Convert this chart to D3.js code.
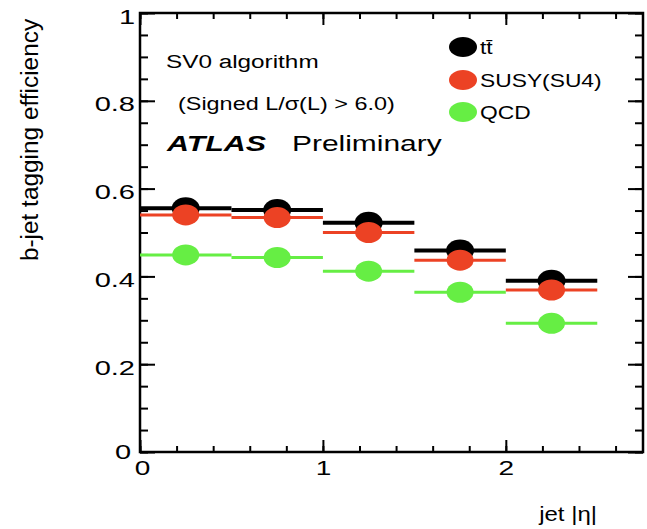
<!DOCTYPE html>
<html>
<head>
<meta charset="utf-8">
<script src="https://cdn.jsdelivr.net/npm/d3@7"></script>
<style>
  body { margin: 0; background: #fff; }
  text { font-family: "Liberation Sans", Arial, sans-serif; fill: #000; }
</style>
</head>
<body>
<script>
// eta bins and efficiencies per sample
const binEdges = [0, 0.5, 1.0, 1.5, 2.0, 2.5];
const ttbarEff = [0.555, 0.551, 0.522, 0.459, 0.390];
const susyEff = [0.540, 0.534, 0.500, 0.437, 0.369];
const qcdEff = [0.449, 0.443, 0.412, 0.364, 0.293];
const seriesNames = ['tt\u0304', 'SUSY(SU4)', 'QCD'];
const yTicks = [0, 0.2, 0.4, 0.6, 0.8, 1];
const xTicks = [0, 1, 2];

const series = [
    { name: seriesNames[0], values: ttbarEff, color: '#000000', width: 4, rx: 14, ry: 11 },
    { name: seriesNames[1], values: susyEff, color: '#ec4224', width: 3, rx: 13.5, ry: 10.5 },
    { name: seriesNames[2], values: qcdEff, color: '#66ee44', width: 3, rx: 13.5, ry: 10.5 }
];

const svgWidth = 647;
const svgHeight = 529;
const margin = { top: 13, right: 4, bottom: 77, left: 140 };
const width = svgWidth - margin.left - margin.right;
const height = svgHeight - margin.top - margin.bottom;

const svg = d3.select('body').append('svg')
    .attr('width', svgWidth)
    .attr('height', svgHeight);

const chart = svg.append('g')
    .attr('transform', `translate(${margin.left},${margin.top})`);

const xScale = d3.scaleLinear().domain([0, 2.75]).range([0, width]);
const yScale = d3.scaleLinear().domain([0, 1]).range([height, 0]);

// stretch text horizontally, the source picture is squeezed
function stretch(sel, k) {
    sel.each(function () {
        const len = this.getComputedTextLength();
        d3.select(this).attr('textLength', len * k).attr('lengthAdjust', 'spacingAndGlyphs');
    });
}

// ticks (inward, on all four sides)
const yMinor = d3.range(0, 1.0001, 0.05);
const xMinor = d3.range(0, 2.7, 0.2);

function drawAxis(g, axis) {
    g.call(axis);
    g.select('.domain').remove();
    g.selectAll('.tick line').attr('stroke', '#000').attr('stroke-width', 2);
}

chart.append('g').call(g => drawAxis(g, d3.axisLeft(yScale).tickValues(yMinor).tickSize(-8).tickFormat('')));
chart.append('g').attr('transform', `translate(${width},0)`)
    .call(g => drawAxis(g, d3.axisRight(yScale).tickValues(yMinor).tickSize(-8).tickFormat('')));
chart.append('g').attr('transform', `translate(0,${height})`)
    .call(g => drawAxis(g, d3.axisBottom(xScale).tickValues(xMinor).tickSize(-6).tickFormat('')));
chart.append('g')
    .call(g => drawAxis(g, d3.axisTop(xScale).tickValues(xMinor).tickSize(-6).tickFormat('')));

const yAxis = chart.append('g').attr('class', 'y-axis');
drawAxis(yAxis, d3.axisLeft(yScale).tickValues(yTicks).tickSize(-15).tickPadding(5)
    .tickFormat(d => d === 0 || d === 1 ? d3.format('d')(d) : d3.format('.1f')(d)));
yAxis.selectAll('text').style('font-size', '20px').attr('dy', '0.5em');
yAxis.selectAll('.tick').filter(d => d === 0).select('text').attr('x', -9).attr('dy', '0.3em');
stretch(yAxis.selectAll('text'), 1.45);

chart.append('g').attr('transform', `translate(${width},0)`)
    .call(g => drawAxis(g, d3.axisRight(yScale).tickValues(yTicks).tickSize(-15).tickFormat('')));

const xAxis = chart.append('g').attr('class', 'x-axis').attr('transform', `translate(0,${height})`);
drawAxis(xAxis, d3.axisBottom(xScale).tickValues(xTicks).tickSize(-12).tickPadding(9)
    .tickFormat(d3.format('d')));
xAxis.selectAll('text').style('font-size', '20px');
xAxis.selectAll('.tick').filter(d => d === 0).select('text').attr('x', 2);
stretch(xAxis.selectAll('text'), 1.4);

chart.append('g')
    .call(g => drawAxis(g, d3.axisTop(xScale).tickValues(xTicks).tickSize(-12).tickFormat('')));

// frame
chart.append('rect')
    .attr('x', 0).attr('y', 0)
    .attr('width', width).attr('height', height)
    .attr('fill', 'none').attr('stroke', '#000').attr('stroke-width', 2.5);

// points: bin width lines with a dot in the middle
series.forEach(s => {
    const g = chart.append('g');
    g.selectAll('line')
        .data(s.values)
        .enter().append('line')
        .attr('x1', (d, i) => xScale(binEdges[i]))
        .attr('x2', (d, i) => xScale(binEdges[i + 1]))
        .attr('y1', d => yScale(d))
        .attr('y2', d => yScale(d))
        .attr('stroke', s.color)
        .attr('stroke-width', s.width);
    g.selectAll('ellipse')
        .data(s.values)
        .enter().append('ellipse')
        .attr('cx', (d, i) => xScale((binEdges[i] + binEdges[i + 1]) / 2))
        .attr('cy', d => yScale(d))
        .attr('rx', s.rx)
        .attr('ry', s.ry)
        .attr('fill', s.color);
});

// labels
svg.append('text').attr('x', 166).attr('y', 68)
    .style('font-size', '18px').text('SV0 algorithm')
    .call(t => stretch(t, 1.35));
svg.append('text').attr('x', 178).attr('y', 110)
    .style('font-size', '18px').text('(Signed L/\u03c3(L) > 6.0)')
    .call(t => stretch(t, 1.3));
svg.append('text').attr('x', 167).attr('y', 151)
    .style('font-size', '22px').style('font-weight', 'bold').style('font-style', 'italic')
    .text('ATLAS')
    .call(t => stretch(t, 1.38));
svg.append('text').attr('x', 292).attr('y', 151)
    .style('font-size', '22px').text('Preliminary')
    .call(t => stretch(t, 1.36));

// legend
const legendY = [47, 80, 112];
const legend = svg.append('g');
series.forEach((s, i) => {
    legend.append('ellipse')
        .attr('cx', 463).attr('cy', legendY[i])
        .attr('rx', 14).attr('ry', 10)
        .attr('fill', s.color);
    legend.append('text')
        .attr('x', 480).attr('y', legendY[i] + 7)
        .style('font-size', '19px')
        .text(s.name)
        .call(t => stretch(t, 1.2));
});

// axis titles
svg.append('text')
    .attr('transform', 'translate(38,140) rotate(-90)')
    .attr('text-anchor', 'middle')
    .style('font-size', '23px')
    .text('b-jet tagging efficiency')
    .call(t => stretch(t, 1.06));

svg.append('text')
    .attr('x', 597).attr('y', 521)
    .attr('text-anchor', 'end')
    .style('font-size', '20px')
    .text('jet |\u03b7|')
    .call(t => stretch(t, 1.2));
</script>
</body>
</html>
